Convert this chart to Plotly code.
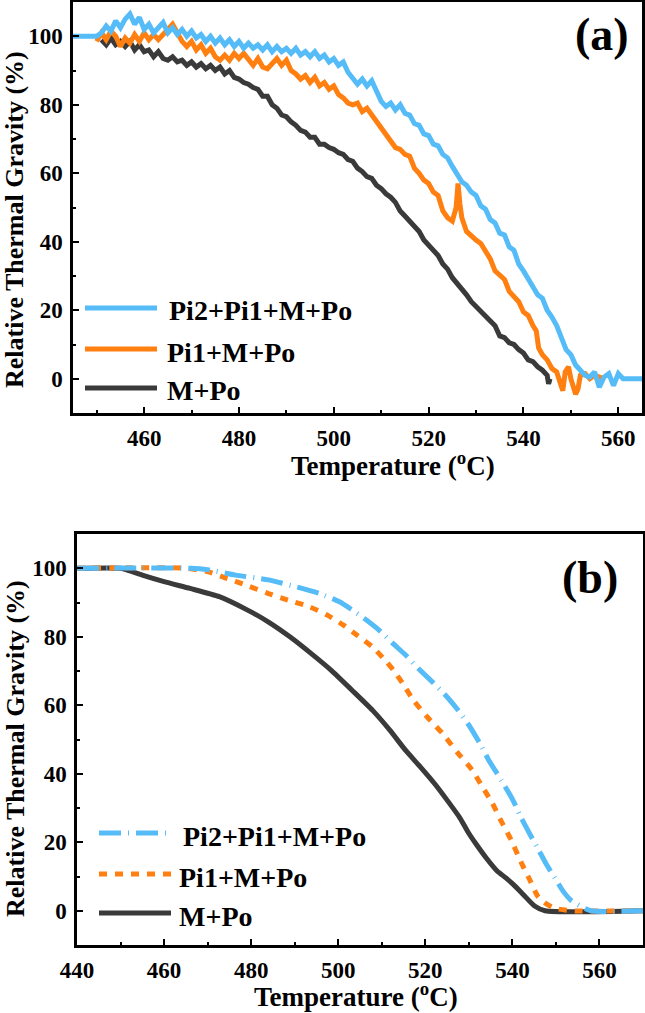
import plotly.graph_objects as go

# ---------------- data: panel (a) measured (noisy) TG curves ----------------
a_blue_T = [445, 450] + list(range(451, 562)) + [565]
a_blue_V = [100, 100,
    101, 103, 101.5, 104.5, 102.5, 105, 106.5, 103.5, 105.5, 102,
    103.5, 101, 102.5, 104, 101, 102.5, 100.5, 102, 100, 101.5,
    99.5, 100.5, 98.5, 100, 98, 99.5, 97.5, 99, 97, 98.5,
    96.5, 98, 96.5, 97.5, 96, 97.5, 95.5, 97, 95.5, 96.5,
    95, 96.5, 94.5, 95.5, 94, 95.5, 93.5, 94.5, 92.5, 93.5,
    91.5, 92.5, 89.5, 87.5, 86, 87.5, 85.5, 87, 84, 81,
    79.5, 80.5, 78.5, 80, 77.5, 77, 74.5, 74, 71.5, 71,
    68.5, 68, 65.5, 64.5, 62, 60, 57.5, 56.5, 54.5, 53.5,
    50.5, 49.5, 46.5, 45.5, 42.5, 42, 38.5, 37.5, 33.5, 31.5,
    29, 27, 24.5, 23.5, 20, 18, 15.5, 12, 8.5, 7,
    4, 2.5, 1, 0.5, 2, -2.5, 0.5, 1.5, -2, 1.5,
    0,
    0]

a_orange_T = list(range(450, 523)) + [
    523, 524, 525, 525.8, 526.2, 526.6, 527, 528, 529, 530,
    531, 532, 533, 534, 535, 536, 537, 538, 539, 540,
    541, 542, 542.7, 543.2, 544, 545, 546, 547, 547.8, 548.3,
    548.8, 549.5, 550, 550.5, 551, 551.5, 552, 553, 554, 555,
    556, 557]
a_orange_V = [
    98.5, 101, 99, 101.5, 100, 97, 99.5, 98, 100.5, 98.5,
    101, 99, 100.5, 99, 100.5, 102, 103.5, 101, 98.5, 97,
    98.5, 96, 97.5, 95, 96.5, 94, 93, 94.5, 93, 95,
    93.5, 95, 93, 91.5, 93.5, 91, 90.5, 92, 93.5, 91.5,
    93, 90, 89, 87.5, 88.5, 86.5, 88, 85.5, 86.5, 84.5,
    85.5, 83, 82, 80.5, 80, 80.5, 78, 79, 77, 75.5,
    73.5, 71.5, 69.5, 67.5, 67, 65.5, 65, 61.5, 60, 58,
    57, 54.5, 53.5,
    49, 47, 46, 50, 57, 51, 47, 43, 41.5, 40.5,
    39.5, 37.5, 35, 31.5, 30, 29, 25.5, 24, 22.5, 19.5,
    18.5, 15.5, 14, 9, 7, 5.5, 3, 2, -1, -3.5,
    2, 3.5, 0, -2, -4.5, -3, 1, 1.5, 0, 1,
    0.5, 0]

a_black_T = list(range(451, 546)) + [545.3, 545.6]
a_black_V = [
    99, 97.5, 99.5, 97.5, 98.5, 97, 98.5, 96, 97.5, 95.5,
    96, 94, 95.5, 93.5, 93, 94, 92.5, 93, 91.5, 92.5,
    91, 92, 90.5, 91.5, 90, 91, 89, 90, 88, 87.5,
    86.5, 86, 85, 84.5, 82.5, 82.5, 80, 79, 77, 76.5,
    75, 74, 72.5, 72, 70.5, 70.5, 68.5, 68.5, 67.5, 67,
    66, 65.5, 64, 63.5, 61.5, 60.5, 59, 58.5, 56.5, 55.5,
    54, 53, 51.5, 49, 47.5, 46, 44, 43, 40.5, 39,
    37, 36, 33.5, 32, 29.5, 28, 26, 24.5, 22.5, 21,
    19.5, 18.5, 16.5, 15.5, 12.5, 12, 10.5, 10, 8.5, 7.5,
    5.5, 5, 3.5, 2.5, 1,
    -1.5, 0]

# ---------------- data: panel (b) fitted (smooth) TG curves ----------------
b_blue_T = [440, 466, 470, 476.4, 484, 491.7, 496, 500.3, 503, 506,
            509.5, 512.6, 515.6, 518.4, 521.8, 525, 527.5, 529.8, 532.6, 534.6,
            537.5, 540.2, 542, 544, 546, 547.8, 549.8, 551.6, 553.5, 555.4,
            558, 570]
b_blue_V = [100, 100, 99.6, 98, 96.6, 94.1, 92.5, 90.2, 88, 85.3,
            81.8, 78, 74.5, 70.7, 66.6, 62.4, 58.6, 54.6, 48.7, 43.9,
            38, 32.1, 27.2, 22.4, 17.8, 13.6, 9.5, 5.8, 3, 1.5,
            0, 0]

b_orange_T = [440, 465, 470, 474.5, 479, 484, 488.5, 493.5, 497.5, 501.2,
              504.5, 507.9, 510.5, 512.7, 515, 517.3, 520.5, 524, 527.5, 530.7,
              533, 535.4, 537.5, 539.7, 542.1, 544, 545.9, 547.8, 549.8, 553.6,
              570]
b_orange_V = [100, 100, 99, 97, 95, 92.6, 90.7, 88.7, 86.3, 83.4,
              80.3, 77, 73.5, 70.2, 66, 61.4, 56.5, 51.7, 46, 41.2,
              36.4, 31.4, 26, 20.7, 13.9, 9, 4.1, 2, 0.7, 0,
              0]

b_black_T = [440, 450, 451, 455, 460, 466, 472.7, 479.3, 484, 488.9,
             493.6, 498.4, 503, 507.9, 511.8, 515.5, 519, 522.2, 525, 527.9,
             529.8, 531.7, 534, 536.5, 538.5, 540.2, 542.6, 545.1, 547.5, 570]
b_black_V = [100, 100, 99.7, 98, 96.1, 94.1, 91.7, 87.7, 84.3, 80,
             75.3, 70.2, 64.6, 58.5, 52.8, 46.8, 41.8, 37, 32.3, 27.2,
             23, 19.4, 15.4, 11.6, 9.6, 7.7, 4.6, 1.4, 0, 0]

series_names = ["Pi2+Pi1+M+Po", "Pi1+M+Po", "M+Po"]
y_ticks = [0, 20, 40, 60, 80, 100]

# ---------------- style ----------------
W, H = 645, 1013
BLUE = "#56BCF8"
ORANGE = "#FF7F10"
BLACK = "#3A3A3A"
FONT = "Liberation Serif, Times New Roman, serif"
LW = 5

def px_x(p):
    return p / W

def px_y(p):
    return 1 - p / H

fig = go.Figure()

# panel (a): black, orange, blue (blue on top)
fig.add_trace(go.Scatter(x=a_black_T, y=a_black_V, mode="lines", name=series_names[2],
                         line=dict(color=BLACK, width=LW), showlegend=False,
                         xaxis="x", yaxis="y"))
fig.add_trace(go.Scatter(x=a_orange_T, y=a_orange_V, mode="lines", name=series_names[1],
                         line=dict(color=ORANGE, width=LW), showlegend=False,
                         xaxis="x", yaxis="y"))
fig.add_trace(go.Scatter(x=a_blue_T, y=a_blue_V, mode="lines", name=series_names[0],
                         line=dict(color=BLUE, width=LW), showlegend=False,
                         xaxis="x", yaxis="y"))

# panel (b)
DASH_BLUE = "22px,7px,1px,7px"
DASH_ORANGE = "8px,8px"
fig.add_trace(go.Scatter(x=b_black_T, y=b_black_V, mode="lines", name=series_names[2],
                         line=dict(color=BLACK, width=LW, shape="spline", smoothing=0.6),
                         showlegend=False, xaxis="x2", yaxis="y2"))
fig.add_trace(go.Scatter(x=b_orange_T, y=b_orange_V, mode="lines", name=series_names[1],
                         line=dict(color=ORANGE, width=LW, dash=DASH_ORANGE, shape="spline", smoothing=0.6),
                         showlegend=False, xaxis="x2", yaxis="y2"))
fig.add_trace(go.Scatter(x=b_blue_T, y=b_blue_V, mode="lines", name=series_names[0],
                         line=dict(color=BLUE, width=LW, dash=DASH_BLUE, shape="spline", smoothing=0.6),
                         showlegend=False, xaxis="x2", yaxis="y2"))

tickfont = dict(family=FONT, size=23, color="black", weight="bold")
common_axis = dict(showline=True, linecolor="black", linewidth=2.5, mirror=True,
                   ticks="inside", ticklen=6, tickwidth=2, tickcolor="black",
                   showgrid=False, zeroline=False, tickfont=tickfont,
                   ticklabelstandoff=3, automargin=False,
                   minor=dict(ticks="inside", ticklen=3, tickwidth=2, tickcolor="black", dtick=10))

fig.update_layout(
    template="none",
    width=W, height=H,
    font=dict(family=FONT, color="black"),
    margin=dict(l=0, r=0, t=0, b=0, pad=0),
    paper_bgcolor="white", plot_bgcolor="white",
    showlegend=False,
    xaxis=dict(domain=[px_x(73), px_x(642)], range=[445, 565], dtick=20, tick0=0,
               anchor="y", **common_axis),
    yaxis=dict(domain=[px_y(413), px_y(2)], range=[-10, 110], tickvals=y_ticks,
               anchor="x", **common_axis),
    xaxis2=dict(domain=[px_x(77), px_x(643)], range=[440, 570], dtick=20, tick0=0,
                anchor="y2", **common_axis),
    yaxis2=dict(domain=[px_y(945), px_y(534)], range=[-10, 110], tickvals=y_ticks,
                anchor="x2", **common_axis),
)

xt_font = dict(family=FONT, size=27, color="black", weight="bold")
yt_font = dict(family=FONT, size=26, color="black", weight="bold")
ann = []
# axis titles
ann.append(dict(text="Temperature (<sup>o</sup>C)", x=px_x(393), y=px_y(464), font=xt_font))
ann.append(dict(text="Temperature (<sup>o</sup>C)", x=px_x(356), y=px_y(995), font=xt_font))
ann.append(dict(text="Relative Thermal Gravity (%)", x=px_x(15), y=px_y(220), textangle=-90, font=yt_font))
ann.append(dict(text="Relative Thermal Gravity (%)", x=px_x(15), y=px_y(749), textangle=-90, font=yt_font))
for a in ann:
    a.update(xref="paper", yref="paper", showarrow=False, xanchor="center",
             yanchor="middle", borderpad=0)
# panel labels
big = dict(family=FONT, size=46, color="black", weight="bold")
ann.append(dict(text="(a)", x=px_x(602), y=px_y(34), xref="paper", yref="paper",
                showarrow=False, xanchor="center", yanchor="middle", font=big))
ann.append(dict(text="(b)", x=px_x(590), y=px_y(577), xref="paper", yref="paper",
                showarrow=False, xanchor="center", yanchor="middle", font=big))

# custom legends (line samples as shapes, labels as text)
leg_font = dict(family=FONT, size=28, color="black", weight="bold")
shapes = []
leg_a = [(308, 167, BLUE, "solid"), (349, 165, ORANGE, "solid"), (388, 165, BLACK, "solid")]
for (yy, tx, col, dsh), nm in zip(leg_a, series_names):
    shapes.append(dict(type="line", xref="paper", yref="paper",
                       x0=px_x(85), x1=px_x(157), y0=px_y(yy), y1=px_y(yy),
                       line=dict(color=col, width=LW, dash=dsh)))
    ann.append(dict(text=nm, x=px_x(tx), y=px_y(yy + 3), xref="paper", yref="paper",
                    showarrow=False, xanchor="left", yanchor="middle", font=leg_font))
leg_b = [(833, 181, BLUE, DASH_BLUE), (874, 177, ORANGE, DASH_ORANGE), (913, 177, BLACK, "solid")]
for (yy, tx, col, dsh), nm in zip(leg_b, series_names):
    shapes.append(dict(type="line", xref="paper", yref="paper",
                       x0=px_x(99), x1=px_x(171), y0=px_y(yy), y1=px_y(yy),
                       line=dict(color=col, width=LW, dash=dsh)))
    ann.append(dict(text=nm, x=px_x(tx), y=px_y(yy + 3), xref="paper", yref="paper",
                    showarrow=False, xanchor="left", yanchor="middle", font=leg_font))

fig.update_layout(annotations=ann, shapes=shapes)
fig.write_html("out.html", config={"displayModeBar": False},
               post_script="document.body.style.margin='0px';document.body.style.overflow='hidden';")
